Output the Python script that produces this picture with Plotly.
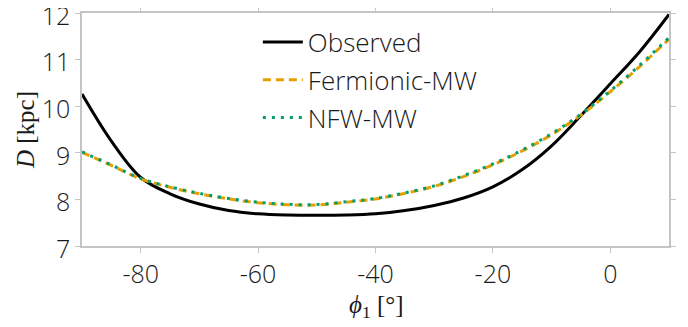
import plotly.graph_objects as go

phi = [-90, -85, -80, -75, -70, -65, -60, -55, -50, -45, -40, -35, -30, -25, -20, -15, -10, -5, 0, 5, 10]
observed = [10.26, 9.25, 8.47, 8.12, 7.90, 7.76, 7.69, 7.665, 7.66, 7.665, 7.69, 7.76, 7.87, 8.03, 8.27, 8.64, 9.15, 9.80, 10.48, 11.17, 11.97]
fermionic = [9.01, 8.73, 8.44, 8.26, 8.12, 8.01, 7.93, 7.885, 7.88, 7.94, 8.01, 8.13, 8.28, 8.49, 8.74, 9.04, 9.39, 9.81, 10.31, 10.85, 11.44]
nfw = [9.02, 8.74, 8.45, 8.27, 8.13, 8.02, 7.94, 7.895, 7.89, 7.95, 8.02, 8.14, 8.29, 8.51, 8.76, 9.06, 9.41, 9.83, 10.33, 10.88, 11.47]

xtick_vals = [-80, -60, -40, -20, 0]
xtick_text = ["-80", "-60", "-40", "-20", "0"]
ytick_vals = [7, 8, 9, 10, 11, 12]

FONT = "Open Sans"
TXT = "#1a1a1a"

fig = go.Figure()
fig.add_trace(go.Scatter(x=phi, y=observed, mode="lines", name="Observed",
                         line=dict(color="black", width=3, shape="spline"), legendgroup="a"))
fig.add_trace(go.Scatter(x=phi, y=fermionic, mode="lines", name="Fermionic-MW",
                         line=dict(color="#E69F00", width=3, dash="8px,5px", shape="spline"), legendgroup="b"))
fig.add_trace(go.Scatter(x=phi, y=nfw, mode="lines", name="NFW-MW",
                         line=dict(color="#009E73", width=3, dash="3px,6px", shape="spline"), legendgroup="c"))

axis_common = dict(showgrid=False, zeroline=False, showline=True, linecolor="#c4c4c4", linewidth=1.5,
                   ticks="outside", ticklen=5, tickcolor="#c4c4c4", tickwidth=1.2, mirror="ticks",
                   automargin=False, ticklabeloverflow="allow",
                   tickfont=dict(family=FONT, size=25, color=TXT, weight=300))

fig.update_xaxes(range=[-90, 10], tickvals=xtick_vals, ticktext=xtick_text, **axis_common)
fig.update_yaxes(range=[6.9999, 12.0001], tickvals=ytick_vals, ticklabelshift=3,
                 title=dict(text="<i>D</i> [kpc]", font=dict(family="Liberation Serif", size=25, color=TXT), standoff=0),
                 **axis_common)

fig.add_annotation(text="<i>ϕ</i><sub>1</sub> [°]", xref="paper", yref="paper", x=0.502, y=-0.259,
                   xanchor="center", yanchor="middle", showarrow=False,
                   font=dict(family="Liberation Serif", size=25, color=TXT))

# page body adds an 8px offset, so the figure is sized to fit the 688x327 window
fig.update_layout(
    width=680, height=319,
    margin=dict(l=74, r=19, t=5, b=81, autoexpand=False),
    paper_bgcolor="white", plot_bgcolor="white",
    showlegend=True,
    legend=dict(x=0.2996, y=0.976, xanchor="left", yanchor="top", bgcolor="rgba(0,0,0,0)",
                font=dict(family=FONT, size=26, color=TXT, weight=300),
                traceorder="grouped", tracegroupgap=1, itemwidth=40),
)

fig.write_html("out.html")
